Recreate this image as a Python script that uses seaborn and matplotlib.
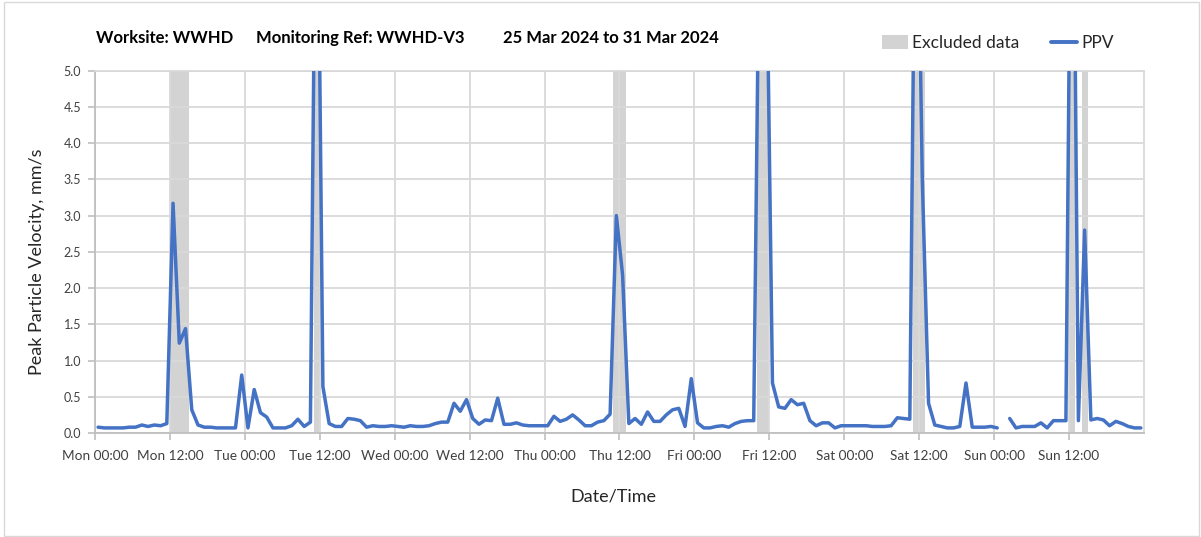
import numpy as np
import pandas as pd
import matplotlib
matplotlib.use("Agg")
import matplotlib.pyplot as plt
import seaborn as sns
from matplotlib.patches import Patch, Rectangle
from matplotlib.lines import Line2D

# x tick labels, one every 12 hours from Mon 00:00
tick_labels = ["Mon 00:00", "Mon 12:00", "Tue 00:00", "Tue 12:00",
               "Wed 00:00", "Wed 12:00", "Thu 00:00", "Thu 12:00",
               "Fri 00:00", "Fri 12:00", "Sat 00:00", "Sat 12:00",
               "Sun 00:00", "Sun 12:00"]

# hourly PPV (mm/s), one row per 12 hours, nan = no reading
ppv = [
    0.08, 0.07, 0.07, 0.07, 0.07, 0.08, 0.08, 0.11, 0.09, 0.11, 0.10, 0.13,
    3.17, 1.24, 1.44, 0.32, 0.11, 0.08, 0.08, 0.07, 0.07, 0.07, 0.07, 0.80,
    0.07, 0.60, 0.28, 0.22, 0.07, 0.07, 0.07, 0.10, 0.19, 0.09, 0.15, 9.40,
    0.64, 0.13, 0.09, 0.09, 0.20, 0.19, 0.17, 0.08, 0.10, 0.09, 0.09, 0.10,
    0.09, 0.08, 0.10, 0.09, 0.09, 0.10, 0.13, 0.15, 0.15, 0.41, 0.30, 0.46,
    0.20, 0.12, 0.18, 0.17, 0.48, 0.12, 0.12, 0.14, 0.11, 0.10, 0.10, 0.10,
    0.10, 0.23, 0.16, 0.19, 0.25, 0.18, 0.10, 0.10, 0.15, 0.17, 0.26, 3.00,
    2.18, 0.13, 0.20, 0.12, 0.29, 0.16, 0.16, 0.25, 0.32, 0.34, 0.09, 0.75,
    0.14, 0.07, 0.07, 0.09, 0.10, 0.08, 0.13, 0.16, 0.17, 0.17, 7.80, 7.20,
    0.69, 0.36, 0.34, 0.46, 0.39, 0.41, 0.17, 0.10, 0.14, 0.14, 0.07, 0.10,
    0.10, 0.10, 0.10, 0.10, 0.09, 0.09, 0.09, 0.10, 0.21, 0.20, 0.19, 9.00,
    3.50, 0.41, 0.11, 0.09, 0.07, 0.07, 0.09, 0.69, 0.08, 0.08, 0.08, 0.09,
    0.07, np.nan, 0.20, 0.07, 0.09, 0.09, 0.09, 0.14, 0.07, 0.17, 0.17, 0.17,
    10.0, 0.17, 2.80, 0.18, 0.20, 0.18, 0.10, 0.16, 0.13, 0.09, 0.07, 0.07,
]

# excluded data periods (hours from Mon 00:00)
excl_start = [12, 35, 83, 106, 131, 156, 158]
excl_end = [15, 36, 85, 108, 133, 157, 159]

blue = "#4472C4"
grey_band = "#D3D3D3"

df = pd.DataFrame({"hour": np.arange(len(ppv)) + 0.5, "ppv": ppv})
df["seg"] = df["ppv"].isna().cumsum()
df = df.dropna()

sns.set_theme(style="white")
plt.rcParams["font.family"] = ["Lato", "DejaVu Sans"]

fig = plt.figure(figsize=(12.01, 5.37), dpi=100)
ax = fig.add_axes([0.0791, 0.1937, 0.8734, 0.6747])

for s, e in zip(excl_start, excl_end):
    ax.axvspan(s, e, color=grey_band, lw=0, zorder=0.2)

sns.lineplot(data=df, x="hour", y="ppv", units="seg", estimator=None,
             color=blue, lw=2.5, ax=ax, zorder=3)

ax.set_xlim(0, 168)
ax.set_ylim(0, 5)
ax.set_xticks(np.arange(len(tick_labels)) * 12)
ax.set_xticklabels(tick_labels)
ax.set_yticks(np.arange(0, 5.01, 0.5))
ax.yaxis.set_major_formatter(matplotlib.ticker.FormatStrFormatter("%.1f"))
ax.set_xlabel("")
ax.set_ylabel("")

ax.set_axisbelow(True)
ax.grid(True, color="#D9D9D9", lw=1.3)
for side in ["left", "bottom"]:
    ax.spines[side].set_color("#BFBFBF")
    ax.spines[side].set_linewidth(1.3)
for side in ["top", "right"]:
    ax.spines[side].set_color("#D9D9D9")
    ax.spines[side].set_linewidth(1.3)
ax.tick_params(axis="x", bottom=True, direction="out", length=5, width=1.2,
               color="#BFBFBF", labelsize=9.8, labelcolor="#404040", pad=7)
ax.tick_params(axis="y", left=True, direction="out", length=5, width=1.2,
               color="#BFBFBF", labelsize=9, labelcolor="#404040", pad=5)

fig.text(37 / 1201, 1 - 262 / 537, "Peak Particle Velocity, mm/s", rotation=90,
         ha="center", va="center", fontsize=13, color="#262626")
fig.text(613 / 1201, 1 - 496 / 537, "Date/Time", ha="center", va="center",
         fontsize=13, color="#262626")

title_y = 1 - 38 / 537
fig.text(96 / 1201, title_y, "Worksite: WWHD", ha="left", va="center",
         fontsize=12, fontweight="bold", color="black")
fig.text(256 / 1201, title_y, "Monitoring Ref: WWHD-V3", ha="left", va="center",
         fontsize=12, fontweight="bold", color="black")
fig.text(503 / 1201, title_y, "25 Mar 2024 to 31 Mar 2024", ha="left", va="center",
         fontsize=12, fontweight="bold", color="black")

handles = [Patch(facecolor=grey_band, edgecolor="none"),
           Line2D([0], [0], color=blue, lw=2.8)]
fig.legend(handles, ["Excluded data", "PPV"], loc="center left",
           bbox_to_anchor=(866 / 1201, 1 - 43 / 537), ncol=2, frameon=False,
           fontsize=12.5, handlelength=1.5, handleheight=0.8, handletextpad=0.25,
           columnspacing=1.8, labelcolor="#262626")

fig.patches.append(Rectangle((4 / 1201, 1 / 537), 1 - 6 / 1201, 1 - 3 / 537,
                             transform=fig.transFigure, fill=False,
                             edgecolor="#D9D9D9", lw=1))

fig.savefig("out.png", dpi=100)
